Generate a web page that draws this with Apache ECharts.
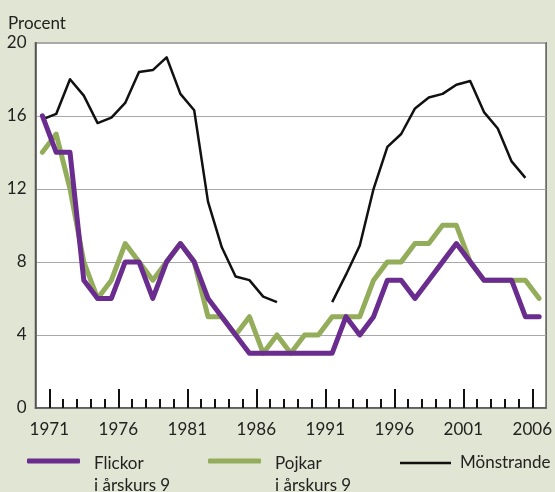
<!DOCTYPE html>
<html>
<head>
<meta charset="utf-8">
<script src="https://cdn.jsdelivr.net/npm/echarts@6/dist/echarts.min.js"></script>
<style>
html,body{margin:0;padding:0;background:#e1e5d3;}
#c{width:555px;height:492px;}
</style>
</head>
<body>
<div id="c"></div>
<script>
const years = [];
for (let y = 1970; y <= 2006; y++) years.push(String(y));
const flickor = [16,14,14,7,6,6,8,8,6,8,9,8,6,5,4,3,3,3,3,3,3,3,5,4,5,7,7,6,7,8,9,8,7,7,7,5,5];
const pojkar  = [14,15,12,8,6,7,9,8,7,8,9,8,5,5,4,5,3,4,3,4,4,5,5,5,7,8,8,9,9,10,10,8,7,7,7,7,6];
const monstrande = [15.8,16.1,18.0,17.1,15.6,15.9,16.7,18.4,18.5,19.2,17.2,16.3,11.3,8.8,7.2,7.0,6.1,5.8,null,null,null,5.8,7.3,8.9,12.0,14.3,15.0,16.4,17.0,17.2,17.7,17.9,16.2,15.3,13.5,12.6,null];
const labelYears = [1971,1976,1981,1986,1991,1996,2001,2006];
const minorYears = [];
for (let y = 1971; y <= 2006; y++) if (labelYears.indexOf(y) < 0) minorYears.push(y);

const nameF = 'Flickor\ni årskurs 9';
const nameP = 'Pojkar\ni årskurs 9';
const nameM = 'Mönstrande';
const FONT = 'Lato';
const TXT = '#222';
const FS = 17;

const twoLine = {
  fontFamily: FONT, fontSize: FS, color: TXT, lineHeight: 22, padding: [0,0,0,9],
  rich: {s: {fontFamily: FONT, fontSize: FS, lineHeight: 28, height: 28}}
};

const chart = echarts.init(document.getElementById('c'));
chart.setOption({
  backgroundColor: '#e1e5d3',
  animation: false,
  title: {
    text: 'Procent', left: 3, top: 10,
    textStyle: {fontFamily: FONT, fontSize: FS, fontWeight: 'normal', color: TXT}
  },
  grid: {
    left: 35.5, top: 42.7, right: 4.7, bottom: 84,
    show: true, backgroundColor: '#fff', borderColor: '#555', borderWidth: 1.5,
    containLabel: false
  },
  legend: [
    {data: [nameF], left: 22, top: 420, itemWidth: 53, itemHeight: 5, icon: 'roundRect',
     formatter: n => '{s| }\n' + n, textStyle: twoLine},
    {data: [nameP], left: 203, top: 420, itemWidth: 53, itemHeight: 5, icon: 'roundRect',
     formatter: n => '{s| }\n' + n, textStyle: twoLine},
    {data: [nameM], left: 395, top: 447, itemWidth: 51, itemHeight: 2.5, icon: 'rect',
     textStyle: {fontFamily: FONT, fontSize: FS, color: TXT, lineHeight: 22, padding: [0,0,0,4]}}
  ],
  xAxis: [
    {type: 'category', data: years, boundaryGap: true, show: false},
    {type: 'value', min: 1970, max: 2007, position: 'bottom',
     axisLine: {show: true, lineStyle: {color: '#555', width: 1.5}},
     axisTick: {show: true, inside: true, length: 19, customValues: labelYears,
                lineStyle: {color: '#111', width: 2}},
     axisLabel: {show: true, customValues: labelYears, margin: 13,
                 formatter: v => String(v),
                 fontFamily: FONT, fontSize: FS, color: TXT},
     splitLine: {show: false}},
    {type: 'value', min: 1970, max: 2007, position: 'bottom',
     axisLine: {show: false},
     axisTick: {show: true, inside: true, length: 9, customValues: minorYears,
                lineStyle: {color: '#111', width: 2}},
     axisLabel: {show: false},
     splitLine: {show: false}}
  ],
  yAxis: {
    type: 'value', min: 0, max: 20, interval: 4,
    axisLine: {show: true, lineStyle: {color: '#555', width: 1.5}},
    axisTick: {show: false},
    axisLabel: {margin: 9, fontFamily: FONT, fontSize: FS, color: TXT},
    splitLine: {show: true, lineStyle: {color: '#a8a8a8', width: 1.2}}
  },
  series: [
    {name: nameF, type: 'line', xAxisIndex: 0, data: flickor, symbol: 'none', z: 5,
     color: '#6a2c8e', lineStyle: {width: 5, join: 'round', cap: 'round'}},
    {name: nameP, type: 'line', xAxisIndex: 0, data: pojkar, symbol: 'none', z: 4,
     color: '#93ad5b', lineStyle: {width: 5, join: 'round', cap: 'round'}},
    {name: nameM, type: 'line', xAxisIndex: 0, data: monstrande, symbol: 'none', z: 3,
     connectNulls: false,
     color: '#111', lineStyle: {width: 2.5, join: 'round'}}
  ]
});
</script>
</body>
</html>
